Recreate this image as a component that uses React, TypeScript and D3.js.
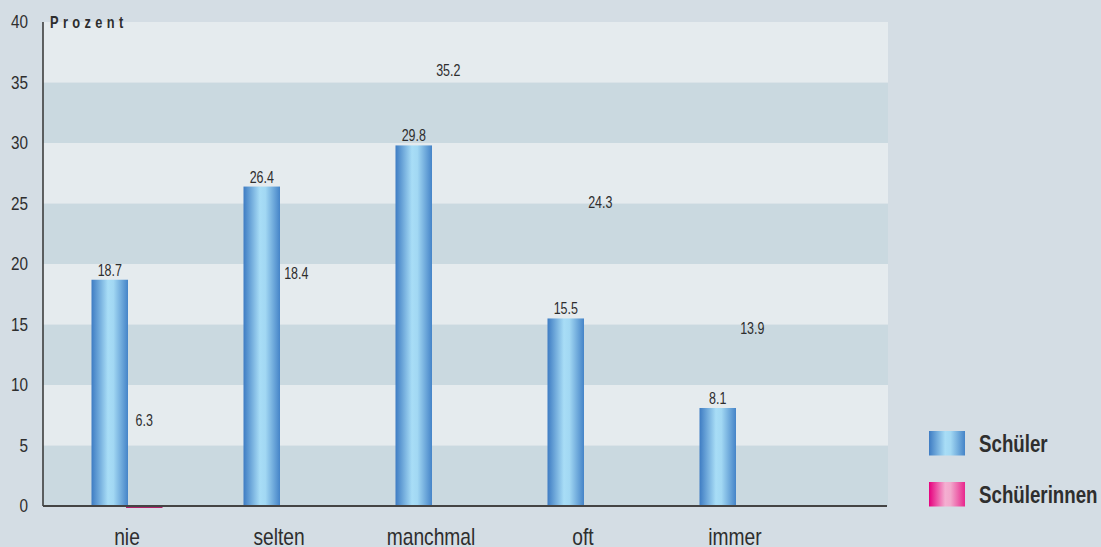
import React from "react";
import * as d3 from "d3";

const categories = ["nie", "selten", "manchmal", "oft", "immer"];
const schueler = [18.7, 26.4, 29.8, 15.5, 8.1];
const schuelerinnen = [6.3, 18.4, 35.2, 24.3, 13.9];
const yTicks = [0, 5, 10, 15, 20, 25, 30, 35, 40];
const seriesNames = ["Schüler", "Schülerinnen"];

const W = 1101;
const H = 547;
const FONT = "'Liberation Sans', Arial, sans-serif";

function CText(props: {
  x: number;
  y: number;
  sx: number;
  size: number;
  anchor?: string;
  bold?: boolean;
  ls?: number;
  children: React.ReactNode;
}) {
  return (
    <g transform={`translate(${props.x},${props.y}) scale(${props.sx},1)`}>
      <text
        x={0}
        y={0}
        textAnchor={props.anchor || "start"}
        fontFamily={FONT}
        fontSize={props.size}
        fontWeight={props.bold ? "bold" : "normal"}
        letterSpacing={props.ls || 0}
        fill="#2e2e2e"
      >
        {props.children}
      </text>
    </g>
  );
}

export default function App() {
  const plotLeft = 43;
  const plotRight = 888;
  const plotTop = 22;
  const plotBottom = 506;

  const y = d3.scaleLinear().domain([0, 40]).range([plotBottom, plotTop]);
  const x = d3.scaleBand<string>().domain(categories).range([52, 812]).paddingInner(0).paddingOuter(0);
  const barW = 36.5;

  const bands = d3.range(0, 8).map((i) => ({ lo: i * 5, hi: i * 5 + 5, dark: i % 2 === 0 }));

  return (
    <div style={{ position: "absolute", left: 0, top: 0, width: W, height: H, overflow: "hidden" }}>
      <svg width={W} height={H} style={{ display: "block", background: "#d4dde4" }}>
        <defs>
          <linearGradient id="gBlue" x1="0" x2="1" y1="0" y2="0">
            <stop offset="0%" stopColor="#3e7cc3" />
            <stop offset="45%" stopColor="#a8ddf6" />
            <stop offset="60%" stopColor="#a2d8f3" />
            <stop offset="100%" stopColor="#4584c8" />
          </linearGradient>
          <linearGradient id="gPink" x1="0" x2="1" y1="0" y2="0">
            <stop offset="0%" stopColor="#e6007e" />
            <stop offset="45%" stopColor="#f4afd1" />
            <stop offset="60%" stopColor="#f2a8cc" />
            <stop offset="100%" stopColor="#e8268d" />
          </linearGradient>
        </defs>
        {bands.map((b, i) => (
          <rect
            key={i}
            x={plotLeft}
            y={y(b.hi)}
            width={plotRight - plotLeft}
            height={y(b.lo) - y(b.hi)}
            fill={b.dark ? "#cad9e0" : "#e5ebee"}
          />
        ))}
        {yTicks.map((t) => (
          <CText key={t} x={28} y={y(t) + 6} sx={0.85} size={18} anchor="end">
            {t}
          </CText>
        ))}
        <CText x={50} y={28} sx={0.8} size={16} bold ls={5.5}>
          Prozent
        </CText>
        {categories.map((c, i) => {
          const cx = (x(c) as number) + x.bandwidth() / 2;
          return (
            <g key={c}>
              <rect x={cx - barW} y={y(schueler[i])} width={barW} height={y(0) - y(schueler[i])} fill="url(#gBlue)" />
              <CText x={cx - barW / 2} y={y(schueler[i]) - 4} sx={0.78} size={16} anchor="middle">
                {schueler[i].toFixed(1)}
              </CText>
              <CText x={cx + barW / 2 - 2} y={y(schuelerinnen[i]) - 4} sx={0.78} size={16} anchor="middle">
                {schuelerinnen[i].toFixed(1)}
              </CText>
              <CText x={cx - 1} y={545} sx={0.8} size={24} anchor="middle">
                {c}
              </CText>
            </g>
          );
        })}
        <line
          x1={(x("nie") as number) + x.bandwidth() / 2 - 2}
          x2={(x("nie") as number) + x.bandwidth() / 2 + barW - 2}
          y1={plotBottom + 1.5}
          y2={plotBottom + 1.5}
          stroke="#b0226a"
          strokeWidth={1}
        />
        <line x1={plotLeft} x2={plotLeft} y1={plotTop} y2={plotBottom} stroke="#333" strokeWidth={1.5} />
        <line x1={plotLeft} x2={plotRight - 1} y1={plotBottom} y2={plotBottom} stroke="#444" strokeWidth={2} />
        {seriesNames.map((s, i) => (
          <g key={s}>
            <rect x={929} y={431 + i * 51} width={36} height={24.5} fill={i === 0 ? "url(#gBlue)" : "url(#gPink)"} />
            <CText x={979} y={452 + i * 51} sx={0.78} size={24} bold>
              {s}
            </CText>
          </g>
        ))}
      </svg>
    </div>
  );
}
